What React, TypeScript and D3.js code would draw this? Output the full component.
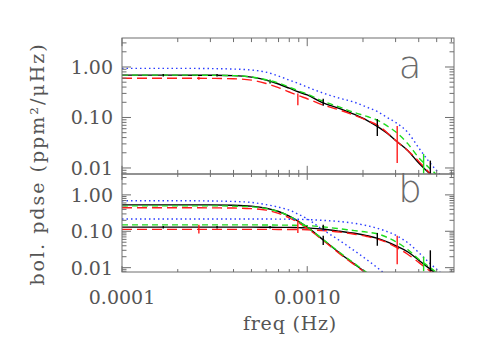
import React, { useEffect, useRef } from "react";
import * as d3 from "d3";

// frequency grid (Hz) shared by every curve
const freq = [1e-4, 2e-4, 3e-4, 4e-4, 5e-4, 6e-4, 7e-4, 8e-4, 9e-4, 1e-3, 1.2e-3, 1.5e-3, 1.8e-3, 2.1e-3, 2.4e-3, 2.7e-3, 3e-3, 3.5e-3, 4e-3, 4.5e-3, 5e-3, 5.5e-3];

// panel a: total spectra
const aBlack = [0.69, 0.69, 0.685, 0.675, 0.63, 0.55, 0.46, 0.38, 0.32, 0.28, 0.2, 0.15, 0.115, 0.088, 0.066, 0.049, 0.035, 0.022, 0.0125, 0.0082, 0.0055, 0.0038];
const aRed = [0.6, 0.6, 0.595, 0.585, 0.55, 0.47, 0.39, 0.32, 0.27, 0.235, 0.18, 0.14, 0.11, 0.088, 0.07, 0.05, 0.035, 0.022, 0.0135, 0.0085, 0.0056, 0.0037];
const aGreen = [0.69, 0.69, 0.685, 0.675, 0.635, 0.56, 0.48, 0.4, 0.335, 0.29, 0.215, 0.16, 0.125, 0.105, 0.088, 0.068, 0.052, 0.03, 0.016, 0.0105, 0.0072, 0.0046];
const aBlue = [0.94, 0.94, 0.93, 0.91, 0.87, 0.79, 0.66, 0.55, 0.47, 0.4, 0.31, 0.24, 0.2, 0.16, 0.13, 0.1, 0.08, 0.05, 0.025, 0.014, 0.0088, 0.0058];

// panel b: narrow (low-freq cutoff) component
const bBlackN = [0.53, 0.53, 0.53, 0.52, 0.49, 0.43, 0.35, 0.26, 0.185, 0.13, 0.062, 0.025, 0.0125, 0.007, 0.0042, 0.0027, 0.0018, 0.001, 0.0006, 0.0004, 0.0003, 0.0002];
const bRedN = [0.445, 0.445, 0.44, 0.435, 0.42, 0.38, 0.31, 0.235, 0.17, 0.12, 0.06, 0.024, 0.012, 0.0068, 0.0041, 0.0026, 0.0017, 0.001, 0.0006, 0.0004, 0.0003, 0.0002];
const bGreenN = [0.5, 0.5, 0.5, 0.49, 0.47, 0.42, 0.345, 0.26, 0.185, 0.13, 0.063, 0.026, 0.013, 0.0073, 0.0044, 0.0028, 0.0019, 0.001, 0.0006, 0.0004, 0.0003, 0.0002];
const bBlueN = [0.69, 0.69, 0.68, 0.66, 0.62, 0.54, 0.46, 0.38, 0.29, 0.22, 0.115, 0.055, 0.029, 0.0165, 0.0098, 0.006, 0.004, 0.0022, 0.0013, 0.0008, 0.0005, 0.0003];

// panel b: broad component
const bBlackB = [0.13, 0.13, 0.13, 0.13, 0.13, 0.129, 0.128, 0.128, 0.126, 0.124, 0.115, 0.1, 0.088, 0.076, 0.064, 0.051, 0.04, 0.027, 0.016, 0.01, 0.0065, 0.004];
const bRedB = [0.113, 0.113, 0.113, 0.113, 0.113, 0.113, 0.112, 0.112, 0.111, 0.11, 0.105, 0.095, 0.083, 0.072, 0.061, 0.049, 0.037, 0.023, 0.014, 0.0088, 0.0058, 0.0038];
const bGreenB = [0.15, 0.15, 0.15, 0.15, 0.15, 0.149, 0.148, 0.147, 0.145, 0.143, 0.133, 0.117, 0.104, 0.095, 0.085, 0.068, 0.052, 0.031, 0.017, 0.011, 0.0072, 0.0046];
const bBlueB = [0.218, 0.218, 0.218, 0.218, 0.218, 0.217, 0.216, 0.215, 0.213, 0.21, 0.2, 0.185, 0.165, 0.143, 0.12, 0.098, 0.078, 0.048, 0.026, 0.0145, 0.009, 0.0058];

// error bars: [freq, low, high]
const aBlackErr = [[1.67e-4, 0.65, 0.73], [3.26e-4, 0.65, 0.73], [6.3e-4, 0.47, 0.56], [1.22e-3, 0.17, 0.235], [2.39e-3, 0.043, 0.093], [4.62e-3, 0.005, 0.014]];
const aRedErr = [[2.6e-4, 0.56, 0.64], [8.9e-4, 0.175, 0.3], [3.06e-3, 0.0125, 0.068]];
const aGreenErr = [[6.3e-4, 0.5, 0.56], [4.25e-3, 0.0078, 0.019]];
const bBlackErr = [[1.67e-4, 0.12, 0.14], [3.26e-4, 0.12, 0.14], [6.3e-4, 0.12, 0.14], [1.22e-3, 0.11, 0.15], [1.22e-3, 0.042, 0.075], [2.39e-3, 0.04, 0.09], [4.62e-3, 0.008, 0.03]];
const bRedErr = [[2.6e-4, 0.087, 0.15], [8.9e-4, 0.09, 0.2], [3.06e-3, 0.0125, 0.075]];
const bGreenErr = [[4.25e-3, 0.008, 0.02]];

const xTickLabels = [1e-4, 1e-3];
const yTickLabels = [1, 0.1, 0.01];

const BLACK = "#000000";
const RED = "#ff1a1a";
const GREEN = "#1edc1e";
const BLUE = "#2a3cff";
const AXIS = "#6e6e6e";
const TEXT = "#555555";
const FONT = "'DejaVu Serif', serif";

export default function App() {
  const ref = useRef<SVGSVGElement>(null);

  useEffect(() => {
    const node = ref.current;
    if (!node) return;
    const svg = d3.select(node);
    svg.selectAll("*").remove();

    const L = 122, R = 454;
    const x = d3.scaleLog().domain([1e-4, 6.2e-3]).range([L, R]);
    const yDomain = [0.0076, 3.75];

    const styles: Record<string, { c: string; dash: string | null }> = {
      black: { c: BLACK, dash: null },
      red: { c: RED, dash: "10,5" },
      green: { c: GREEN, dash: "6,4" },
      blue: { c: BLUE, dash: "1.5,3" },
    };

    const panels = [
      {
        id: "a", top: 38, bottom: 174, letter: "a", letterY: 78,
        lines: [["black", aBlack], ["red", aRed], ["green", aGreen], ["blue", aBlue]],
        errs: [["black", aBlackErr], ["red", aRedErr], ["green", aGreenErr]],
      },
      {
        id: "b", top: 174, bottom: 272, letter: "b", letterY: 202,
        lines: [["black", bBlackN], ["black", bBlackB], ["red", bRedN], ["red", bRedB], ["green", bGreenN], ["green", bGreenB], ["blue", bBlueN], ["blue", bBlueB]],
        errs: [["black", bBlackErr], ["red", bRedErr], ["green", bGreenErr]],
      },
    ];

    const minorX: number[] = [];
    [1e-4, 1e-3].forEach(d => { for (let k = 1; k <= 9; k++) if (d * k <= 6.2e-3) minorX.push(d * k); });
    const minorY: number[] = [];
    [0.001, 0.01, 0.1, 1].forEach(d => { for (let k = 1; k <= 9; k++) if (d * k >= yDomain[0] && d * k <= yDomain[1]) minorY.push(d * k); });
    const isMajor = (v: number) => Math.abs(Math.log10(v) - Math.round(Math.log10(v))) < 1e-6;

    const defs = svg.append("defs");

    panels.forEach(p => {
      const y = d3.scaleLog().domain(yDomain).range([p.bottom, p.top]);
      const g = svg.append("g");

      defs.append("clipPath").attr("id", "clip-" + p.id)
        .append("rect").attr("x", L).attr("y", p.top).attr("width", R - L).attr("height", p.bottom - p.top);

      const plot = g.append("g").attr("clip-path", `url(#clip-${p.id})`);
      const line = d3.line<[number, number]>()
        .x(d => x(d[0]))
        .y(d => y(d[1]))
        .curve(d3.curveMonotoneX);

      (p.lines as [string, number[]][]).forEach(([k, vals]) => {
        const s = styles[k];
        plot.append("path")
          .datum(freq.map((f, i) => [f, vals[i]] as [number, number]))
          .attr("d", line)
          .attr("fill", "none")
          .attr("stroke", s.c)
          .attr("stroke-width", 1.4)
          .attr("stroke-dasharray", s.dash);
      });

      (p.errs as [string, number[][]][]).forEach(([k, rows]) => {
        plot.selectAll(null)
          .data(rows)
          .enter()
          .append("line")
          .attr("x1", d => x(d[0])).attr("x2", d => x(d[0]))
          .attr("y1", d => y(d[1])).attr("y2", d => y(d[2]))
          .attr("stroke", styles[k].c)
          .attr("stroke-width", 1.4);
      });

      // frame
      g.append("rect")
        .attr("x", L).attr("y", p.top)
        .attr("width", R - L).attr("height", p.bottom - p.top)
        .attr("fill", "none").attr("stroke", AXIS).attr("stroke-width", 1);

      const h = p.bottom - p.top;
      const xMaj = h * 0.06, xMin = h * 0.03;
      // x ticks on top and bottom edges
      g.selectAll(null).data(minorX).enter().append("path")
        .attr("d", d => {
          const t = isMajor(d) ? xMaj : xMin;
          return `M${x(d)},${p.top}v${t}M${x(d)},${p.bottom}v${-t}`;
        })
        .attr("stroke", AXIS).attr("stroke-width", 1);
      // y ticks on left and right edges
      g.selectAll(null).data(minorY).enter().append("path")
        .attr("d", d => {
          const t = isMajor(d) ? 9 : 4.5;
          return `M${L},${y(d)}h${t}M${R},${y(d)}h${-t}`;
        })
        .attr("stroke", AXIS).attr("stroke-width", 1);

      // y tick labels
      g.selectAll(null).data(yTickLabels).enter().append("text")
        .attr("x", L - 9)
        .attr("y", d => y(d))
        .attr("dy", "0.36em")
        .attr("text-anchor", "end")
        .attr("font-family", FONT)
        .attr("font-size", 19)
        .attr("fill", TEXT)
        .text(d => d3.format(".2f")(d));

      g.append("text")
        .attr("x", 410)
        .attr("y", p.letterY)
        .attr("text-anchor", "middle")
        .attr("font-family", "'DejaVu Sans', sans-serif")
        .attr("font-weight", 200)
        .attr("font-size", 37)
        .attr("fill", "#6a6a6a")
        .text(p.letter);
    });

    // x tick labels
    svg.append("g").selectAll("text").data(xTickLabels).enter().append("text")
      .attr("x", d => x(d))
      .attr("y", 304)
      .attr("text-anchor", "middle")
      .attr("font-family", FONT)
      .attr("font-size", 19)
      .attr("fill", TEXT)
      .text(d => d3.format(".4f")(d));

    svg.append("text")
      .attr("x", 290)
      .attr("y", 330)
      .attr("text-anchor", "middle")
      .attr("font-family", FONT)
      .attr("font-size", 19)
      .attr("letter-spacing", 0.8)
      .attr("fill", TEXT)
      .text("freq (Hz)");

    svg.append("text")
      .attr("transform", "translate(44,164) rotate(-90)")
      .attr("text-anchor", "middle")
      .attr("font-family", FONT)
      .attr("font-size", 19)
      .attr("letter-spacing", 2)
      .attr("fill", TEXT)
      .text("bol. pdse (ppm²/μHz)");
  }, []);

  return <svg ref={ref} width={491} height={350} style={{ position: "absolute", left: 0, top: 0, background: "#fff" }} />;
}
